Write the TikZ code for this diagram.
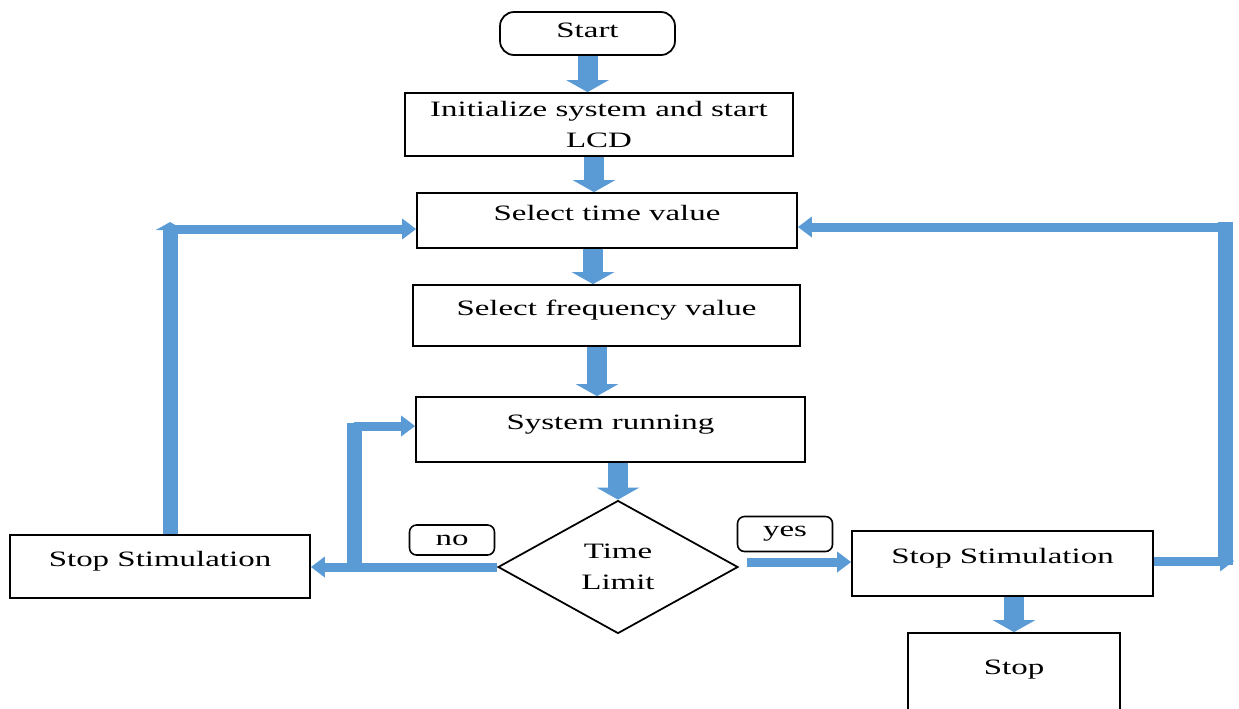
\documentclass[tikz,border=0pt]{standalone}
\usepackage{fontspec}
\setmainfont{Liberation Serif}[FakeStretch=1.5]
\usetikzlibrary{arrows.meta,shapes.geometric}
\definecolor{flowblue}{HTML}{5B9BD5}

\tikzset{
  box/.style={draw, rectangle, inner sep=0pt, line width=1pt},
  oneline/.style={text height=0.3cm, text depth=0.3cm},
  tag/.style={draw, rounded corners=4pt, inner sep=0pt, line width=0.9pt},
  flow/.style={draw=flowblue, line width=0.4cm, -{Triangle[width=0.84cm,length=0.24cm]}},
  thin/.style={draw=flowblue, line width=0.18cm, -{Triangle[width=0.4cm,length=0.28cm]}},
  post/.style={draw=flowblue, line width=0.3cm},
}

\begin{document}
\begin{tikzpicture}[x=0.02cm, y=-0.02cm, font=\fontsize{12.5}{18}\selectfont]
\useasboundingbox (0,0) rectangle (1239,708);

% boxes
\node[box, text height=0.3cm, text depth=0.16cm, rounded corners=8pt, minimum width=3.5cm, minimum height=0.86cm] (start) at (587.5,33.5) {Start};
\node[box, align=center, minimum width=7.76cm, minimum height=1.26cm] (init) at (599,124.5) {Initialize system and start\\LCD};
\node[box, oneline, minimum width=7.6cm, minimum height=1.1cm] (tv) at (607,220.5) {Select time value};
\node[box, oneline, minimum width=7.74cm, minimum height=1.22cm] (fv) at (606.5,315.5) {Select frequency value};
\node[box, oneline, minimum width=7.78cm, minimum height=1.3cm] (run) at (610.5,429.5) {System running};
\node[diamond, draw, line width=1pt, inner sep=0pt, align=center, minimum width=4.8cm, minimum height=2.66cm] (lim) at (618,567) {Time\\Limit};
\node[box, oneline, minimum width=6cm, minimum height=1.26cm] (stopL) at (160,566.5) {Stop Stimulation};
\node[box, oneline, minimum width=6.02cm, minimum height=1.3cm] (stopR) at (1002.5,563.5) {Stop Stimulation};
\node[box, oneline, minimum width=4.24cm, minimum height=1.64cm] (stop) at (1014,674) {Stop};

% labels
\node[tag, minimum width=1.7cm, minimum height=0.6cm] (no) at (452,540) {no};
\node[tag, minimum width=1.9cm, minimum height=0.7cm] (yes) at (785,534) {yes};

% main flow
\draw[flow] (start.south) -- (start.south |- init.north);
\draw[flow] ([xshift=-0.1cm]init.south) -- ([xshift=-0.1cm]init.south |- tv.north);
\draw[flow] ([xshift=-0.28cm]tv.south) -- ([xshift=-0.28cm]tv.south |- fv.north);
\draw[flow] ([xshift=-0.19cm]fv.south) -- ([xshift=-0.19cm]fv.south |- run.north);
\draw[flow] (run.south -| lim.north) -- (lim.north);
\draw[flow] (stop.north |- stopR.south) -- (stop.north);

% no branch
\coordinate (nj) at (354,571);
\coordinate (nt) at (354,426);
\draw[thin] (lim.west) -- (lim.west -| stopL.east);
\draw[post] (nj) -- ([yshift=0.06cm]nt);
\draw[thin] (nt) -- (nt -| run.west);

% yes branch
\draw[thin, shorten <=0.16cm] ([yshift=0.1cm]lim.east) -- ([yshift=0.1cm]lim.east -| stopR.west);

% loop back on the left
\coordinate (lt) at (170,229);
\draw[post, -{Triangle[width=0.56cm,length=0.16cm]}] (lt |- stopL.north) -- ([yshift=0.14cm]lt);
\draw[thin] (lt) -- (lt -| tv.west);

% loop back on the right
\coordinate (rt) at (1225,227);
\coordinate (rb) at (1234,561);
\draw[thin] (stopR.east |- rb) -- (rb);
\draw[post] ([yshift=-0.08cm]rt |- rb) -- ([yshift=0.1cm]rt);
\draw[thin] (rt) -- (rt -| tv.east);
\end{tikzpicture}
\end{document}
